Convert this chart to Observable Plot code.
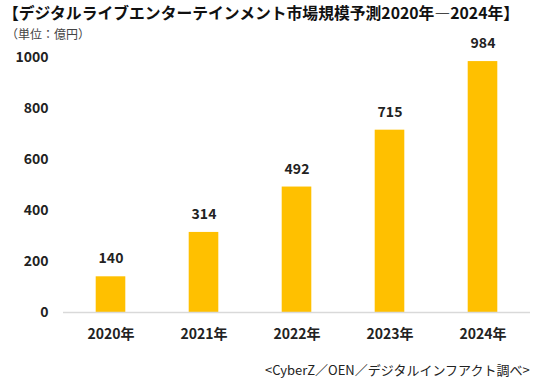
<!DOCTYPE html>
<html>
<head>
<meta charset="utf-8">
<script src="https://cdn.jsdelivr.net/npm/d3@7"></script>
<script src="https://cdn.jsdelivr.net/npm/@observablehq/plot@0.6"></script>
<style>
  html, body { margin: 0; padding: 0; background: #fff; }
  #wrap { position: relative; width: 550px; height: 386px; overflow: hidden; font-family: "Noto Sans CJK JP", "Noto Sans", sans-serif; }
  #title { position: absolute; left: 3px; top: 1px; font-size: 15.8px; font-weight: bold; color: #111; white-space: nowrap; line-height: 23px; }
  #subtitle { position: absolute; left: 6px; top: 24.5px; font-size: 12px; color: #444; white-space: nowrap; line-height: 17.5px; }
  #caption { position: absolute; left: 265px; top: 360px; font-size: 13px; color: #222; white-space: nowrap; }
  #chart { position: absolute; left: 0; top: 0; }
</style>
</head>
<body>
<div id="wrap">
  <div id="chart"></div>
  <div id="title">【デジタルライブエンターテインメント市場規模予測2020年―2024年】</div>
  <div id="subtitle">（単位：億円）</div>
  <div id="caption">&lt;CyberZ／OEN／デジタルインフアクト調べ&gt;</div>
</div>
<script>
const years = ["2020年", "2021年", "2022年", "2023年", "2024年"];
const values = [140, 314, 492, 715, 984];
const yTicks = [0, 200, 400, 600, 800, 1000];

const data = years.map((year, i) => ({year, value: values[i]}));

const chart = Plot.plot({
  width: 550,
  height: 386,
  marginLeft: 63,
  marginRight: 20,
  marginTop: 57,
  marginBottom: 74,
  style: {fontFamily: "'Noto Sans CJK JP', 'Noto Sans', sans-serif", background: "transparent"},
  x: {domain: years, padding: 0, label: null},
  y: {domain: [0, 1000], label: null},
  marks: [
    Plot.barY(data, {x: "year", y: "value", fill: "#FFC000", insetLeft: 31.7, insetRight: 31.7}),
    Plot.ruleY([0], {stroke: "#d9d9d9", strokeWidth: 1.5}),
    Plot.axisY({ticks: yTicks, tickFormat: d => String(d), tickSize: 0, tickPadding: 15, fontSize: 14, fontWeight: "bold", fill: "#222", label: null}),
    Plot.axisX({tickSize: 0, tickPadding: 17, fontSize: 14, fontWeight: "bold", fill: "#222", label: null}),
    Plot.text(data, {x: "year", y: "value", text: d => String(d.value), dy: -18, fontSize: 14, fontWeight: "bold", fill: "#222"})
  ]
});
document.getElementById("chart").appendChild(chart);
</script>
</body>
</html>
